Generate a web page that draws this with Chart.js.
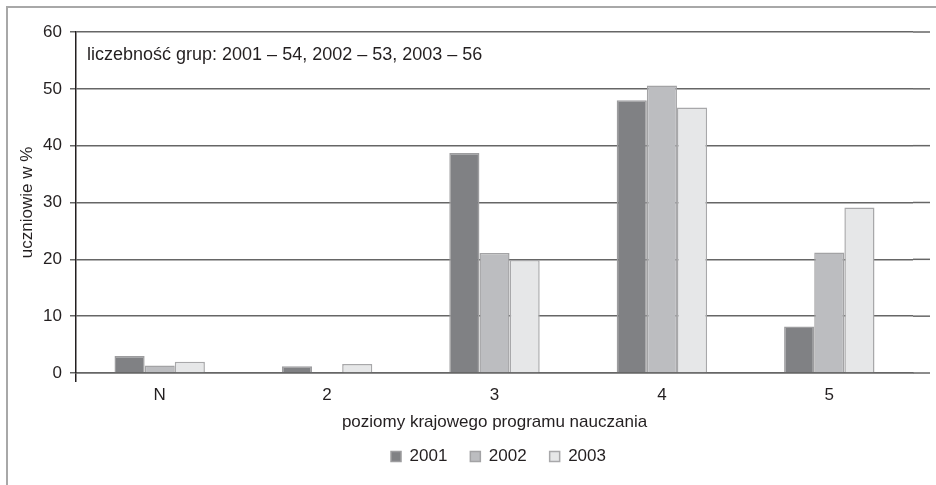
<!DOCTYPE html>
<html>
<head>
<meta charset="utf-8">
<script src="https://cdn.jsdelivr.net/npm/chart.js@4.4.0/dist/chart.umd.min.js"></script>
<style>
  html, body { margin: 0; padding: 0; background: #fff; }
  #wrap { position: relative; width: 936px; height: 485px; }
  #frame { position: absolute; left: 6px; top: 6px; width: 932px; height: 481px;
           border-left: 2px solid #a8a8a8; border-top: 2px solid #a8a8a8; pointer-events: none; }
  canvas { position: absolute; left: 0; top: 0; }
</style>
</head>
<body>
<div id="wrap">
  <canvas id="c" width="936" height="485"></canvas>
  <div id="frame"></div>
</div>
<script>
const categories = ['N', '2', '3', '4', '5'];
const seriesNames = ['2001', '2002', '2003'];
const values2001 = [3.0, 1.2, 38.7, 48.0, 8.2];
const values2002 = [1.3, 0, 21.1, 50.6, 21.2];
const values2003 = [2.0, 1.6, 19.9, 46.7, 29.1];
const yTicks = [0, 10, 20, 30, 40, 50, 60];
const noteText = 'liczebność grup: 2001 – 54, 2002 – 53, 2003 – 56';
const xTitle = 'poziomy krajowego programu nauczania';
const yTitle = 'uczniowie w %';

const FONT = "'Liberation Sans', Arial, sans-serif";
const TXT = '#231f20';
const GRID = '#666666';

const extras = {
  id: 'extras',
  afterLayout(chart) {
    // centre the legend under the plot area rather than the whole canvas
    const lg = chart.legend;
    if (lg) {
      const shift = (chart.chartArea.left + chart.chartArea.right) / 2 - (lg.left + lg.right) / 2 + 4;
      lg.left += shift;
      lg.right += shift;
    }
  },
  beforeDatasetsDraw(chart) {
    const {ctx, chartArea} = chart;
    const y = chart.scales.y;
    ctx.save();
    ctx.strokeStyle = GRID;
    ctx.lineWidth = 1.5;
    yTicks.forEach(v => {
      const py = y.getPixelForValue(v);
      ctx.beginPath();
      ctx.moveTo(chartArea.right, py);
      ctx.lineTo(930, py);
      ctx.stroke();
    });
    ctx.restore();
  },
  afterDraw(chart) {
    const {ctx, chartArea} = chart;
    ctx.save();
    ctx.font = "18px " + FONT;
    ctx.fillStyle = TXT;
    ctx.textBaseline = 'middle';
    ctx.textAlign = 'left';
    ctx.fillText(noteText, chartArea.left + 11, chart.scales.y.getPixelForValue(55.9));
    ctx.restore();
  }
};

const barStyle = [
  {bg: '#808184', border: '#9d9d9f'},
  {bg: '#bcbdc0', border: '#a3a3a5'},
  {bg: '#e6e7e8', border: '#a8a8aa'}
];
const seriesValues = [values2001, values2002, values2003];

new Chart(document.getElementById('c'), {
  type: 'bar',
  data: {
    labels: categories,
    datasets: seriesNames.map((name, i) => ({
      label: name,
      data: seriesValues[i],
      backgroundColor: barStyle[i].bg,
      borderColor: barStyle[i].border,
      borderWidth: 1.5,
      categoryPercentage: 0.54,
      barPercentage: 1.0
    }))
  },
  options: {
    responsive: false,
    animation: false,
    devicePixelRatio: 1,
    layout: { padding: { left: 0, right: 23, top: 32, bottom: 10 } },
    plugins: {
      legend: {
        position: 'bottom',
        labels: {
          boxWidth: 10, boxHeight: 10, padding: 23,
          color: TXT, font: { family: FONT, size: 17 }
        }
      },
      tooltip: { enabled: false }
    },
    scales: {
      x: {
        offset: true,
        grid: {
          offset: true,
          drawOnChartArea: false,
          drawTicks: true,
          tickLength: 9,
          lineWidth: 1.5,
          color: ctx => ctx.index === 0 ? '#231f20' : 'rgba(0,0,0,0)'
        },
        border: { display: true, color: GRID, width: 1.5 },
        ticks: { color: TXT, font: { family: FONT, size: 17 }, padding: 3 },
        title: {
          display: true, text: xTitle, color: TXT,
          font: { family: FONT, size: 17 }, padding: { top: 0, bottom: -8 }
        },
        afterFit(scale) { scale.height = 52; }
      },
      y: {
        min: 0, max: 60,
        afterBuildTicks(scale) { scale.ticks = yTicks.map(v => ({value: v})); },
        grid: { color: GRID, lineWidth: 1.5, tickLength: 6, drawTicks: true },
        border: { display: true, color: '#231f20', width: 1.5 },
        ticks: { color: TXT, font: { family: FONT, size: 17 }, padding: 8 },
        title: {
          display: true, text: yTitle, color: TXT,
          font: { family: FONT, size: 17 }, padding: { top: 17, bottom: 0 }
        },
        afterFit(scale) { scale.width = 76; }
      }
    }
  },
  plugins: [extras]
});
</script>
</body>
</html>
